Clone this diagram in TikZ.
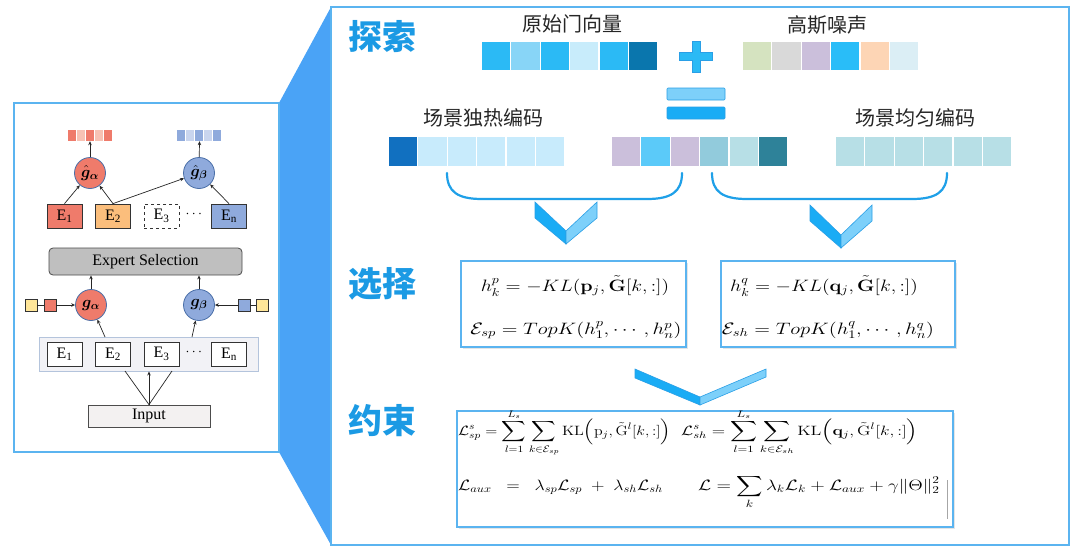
\RequirePackage{fix-cm}
\documentclass[tikz,border=0pt]{standalone}
\usepackage{amsmath}
\usepackage{bm}
\usepackage{graphicx}
\usepackage[no-math]{fontspec}
\setmainfont{Liberation Serif}
\newfontfamily\cjk{Noto Sans CJK SC}
\usetikzlibrary{arrows.meta,shadows,calc}
\pgfdeclarelayer{bg}
\pgfsetlayers{bg,main}
\definecolor{trapc}{HTML}{4AA3F6}
\definecolor{panelc}{HTML}{5BB4F0}
\definecolor{headc}{HTML}{1B9AE4}
\definecolor{bracec}{HTML}{1FA0E8}
\definecolor{lred}{HTML}{EF7B6B}
\definecolor{lredb}{HTML}{F7C2B4}
\definecolor{lorange}{HTML}{FBBE7C}
\definecolor{lblue}{HTML}{8FAADC}
\definecolor{lblueb}{HTML}{C9D5EE}
\definecolor{lyellow}{HTML}{FFE699}
\definecolor{gborder}{HTML}{4A6FA8}
\definecolor{esfill}{HTML}{BFBFBF}
\definecolor{contfill}{HTML}{F2F2F6}
\definecolor{contdraw}{HTML}{B4C4DC}
\definecolor{inpfill}{HTML}{F3F1F1}
\definecolor{ga}{HTML}{2BBAF5}
\definecolor{gb}{HTML}{88D5F7}
\definecolor{gc}{HTML}{C8ECFB}
\definecolor{gd}{HTML}{0A76AD}
\definecolor{na}{HTML}{D5E3C0}
\definecolor{nb}{HTML}{D9D9D9}
\definecolor{nc}{HTML}{CBBFDB}
\definecolor{nd}{HTML}{29BDF8}
\definecolor{ne}{HTML}{FDD5B5}
\definecolor{nf}{HTML}{DBEEF5}
\definecolor{oa}{HTML}{1170C0}
\definecolor{ob}{HTML}{C8EBFC}
\definecolor{ma}{HTML}{5BCAF9}
\definecolor{mb}{HTML}{92CBDC}
\definecolor{mc}{HTML}{B7DFE6}
\definecolor{md}{HTML}{2E8299}
\definecolor{chevl}{HTML}{1AACF5}
\definecolor{chevr}{HTML}{7DD0FA}
\definecolor{chevd}{HTML}{2A9FE6}
\newcommand\mycells[5]{%
  \foreach \cc [count=\i from 0] in {#5} {\fill[\cc] ({#1+\i*#3},#2) rectangle ++({#3-1.3},#4);}}
\newcommand\sx[2]{\scalebox{#1}[1]{#2}}
\begin{document}
\begin{tikzpicture}[x=1pt,y=-1pt,
  cjklbl/.style={font=\fontsize{20}{22}\selectfont\cjk, text=black!85, inner sep=0},
  headlbl/.style={font=\fontsize{34}{36}\selectfont\cjk\bfseries, text=headc, inner sep=0},
  fbox/.style={draw=panelc, line width=1.3, fill=white, inner sep=0,
     drop shadow={shadow xshift=1.5pt, shadow yshift=-1.5pt, opacity=0.2}},
  mline/.style={font=\fontsize{16.5}{19}\selectfont, inner sep=0, anchor=base},
  bline/.style={font=\fontsize{13.5}{16}\selectfont, inner sep=0, anchor=base west},
  bline2/.style={font=\fontsize{15}{17}\selectfont, inner sep=0, anchor=base west},
  ebox/.style={draw=black!80, line width=.8, minimum width=35, minimum height=24, inner sep=0, font=\fontsize{16}{16}\selectfont},
  gcirc/.style={circle, draw=gborder, line width=.8, minimum size=31, inner sep=0, font=\fontsize{16}{16}\selectfont},
  sq/.style={draw=black!80, line width=.7, minimum size=12, inner sep=0},
  arr/.style={-{Stealth[length=4pt,width=3.5pt]}, line width=.7, black!85},
  ddash/.style={dash dot, line width=.6, black!75, -{Stealth[length=3.5pt,width=3pt]}},
  chev/.style={draw=chevd, line width=.6},
  brace/.style={draw=bracec, line width=2.2, line cap=round}]
\useasboundingbox (0,0) rectangle (1080,552);

% ---------- trapezoid and panels ----------
\fill[trapc] (279,103) -- (331,7) -- (331,545) -- (279,452) -- cycle;
\filldraw[fill=white, draw=panelc, line width=1.5] (331,7) rectangle (1069,545);
\filldraw[fill=white, draw=panelc, line width=1.5] (14,103) rectangle (279,452);

% ---------- left panel ----------
\node[minimum width=44, minimum height=11, inner sep=0] (outA) at (90,135.5) {};
\node[minimum width=45, minimum height=11, inner sep=0] (outB) at (199.5,135.5) {};
\mycells{68}{130}{9}{11}{lred,lredb,lred,lredb,lred}
\mycells{177}{130}{9}{11}{lblue,lblueb,lblue,lblueb,lblue}
\node[gcirc, fill=lred] (hgA) at (90,173) {$\hat{\bm g}_{\bm\alpha}$};
\node[gcirc, fill=lblue] (hgB) at (199,173) {$\hat{\bm g}_{\bm\beta}$};
\node[ebox, fill=lred] (uE1) at (64.5,216) {E\textsubscript{1}};
\node[ebox, fill=lorange] (uE2) at (113,216) {E\textsubscript{2}};
\node[ebox, dashed] (uE3) at (161.5,216) {E\textsubscript{3}};
\node[font=\fontsize{14}{14}\selectfont, inner sep=0] (ud) at (195,214) {$\cdots$};
\node[ebox, fill=lblue] (uEn) at (229,216) {E\textsubscript{n}};
\node[draw=black!70, line width=.8, fill=esfill, rounded corners=4, minimum width=193, minimum height=27, inner sep=0, font=\fontsize{16}{16}\selectfont] (es) at (145.5,261.5) {Expert Selection};
\node[gcirc, fill=lred] (gA) at (91,305) {$\bm g_{\bm\alpha}$};
\node[gcirc, fill=lblue] (gB) at (199,305) {$\bm g_{\bm\beta}$};
\node[sq, fill=lyellow] (sqA1) at (31,305) {};
\node[sq, fill=lred] (sqA2) at (50,305) {};
\node[sq, fill=lblue] (sqB1) at (244,305) {};
\node[sq, fill=lyellow] (sqB2) at (262,305) {};
\node[draw=contdraw, line width=.9, fill=contfill, minimum width=219, minimum height=34, inner sep=0] (cont) at (148.5,354) {};
\node[ebox, fill=white] (lE1) at (64.5,354) {E\textsubscript{1}};
\node[ebox, fill=white] (lE2) at (113,354) {E\textsubscript{2}};
\node[ebox, fill=white] (lE3) at (161.5,354) {E\textsubscript{3}};
\node[font=\fontsize{14}{14}\selectfont, inner sep=0] (ld) at (195,352) {$\cdots$};
\node[ebox, fill=white] (lEn) at (229,354) {E\textsubscript{n}};
\node[draw=black!70, line width=.8, fill=inpfill, minimum width=122, minimum height=22, inner sep=0, font=\fontsize{16}{16}\selectfont] (inp) at (149,416) {Input};

\begin{pgfonlayer}{bg}
\draw[ddash] (lE1.north) -- (uE1.south);
\draw[ddash] (lE2.north) -- (uE2.south);
\draw[ddash] (lE3.north) -- (uE3.south);
\draw[ddash] (lEn.north) -- (uEn.south);
\end{pgfonlayer}

\coordinate (c1) at (125,371);
\coordinate (c3) at (172,371);
\draw[line width=.7, black!85] (inp.north) -- (c1);
\draw[line width=.7, black!85] (inp.north) -- (c3);
\draw[arr] (inp.north) -- (inp.north |- cont.south);
\coordinate (ca) at (105,337);
\coordinate (cb) at (192,337);
\draw[arr] (ca) -- (gA);
\draw[arr] (cb) -- (gB);
\draw[line width=.7, black!85] (sqA1) -- (sqA2);
\draw[arr] (sqA2) -- (gA);
\draw[line width=.7, black!85] (sqB2) -- (sqB1);
\draw[arr] (sqB1) -- (gB);
\draw[arr] (gA.north) -- (gA.north |- es.south);
\draw[arr] (gB.north) -- (gB.north |- es.south);
\draw[arr] (uE1.north) -- (hgA);
\draw[arr] (uE2.north) -- (hgA);
\draw[arr] (uE2.north) -- (hgB);
\draw[arr] (uEn.north) -- (hgB);
\draw[arr] (hgA) -- (outA.south);
\draw[arr] (hgB) -- (outB.south);

% ---------- right panel: explore ----------
\node[headlbl] (h1) at (382,37) {探索};
\node[headlbl] (h2) at (382,284) {选择};
\node[headlbl] (h3) at (382,421) {约束};

\node[cjklbl] (t1) at (572,24) {原始门向量};
\node[cjklbl] (t2) at (827,25) {高斯噪声};
\node[cjklbl] (t3) at (483,118) {场景独热编码};
\node[cjklbl] (t4) at (915,118) {场景均匀编码};

\mycells{482}{42}{29.4}{28}{ga,gb,ga,gc,ga,gd}
\mycells{743}{42}{29.4}{28}{na,nb,nc,nd,ne,nf}
\mycells{389}{137}{29.4}{29}{oa,ob,ob,ob,ob,ob}
\mycells{612}{137}{29.4}{29}{nc,ma,nc,mb,mc,md}
\mycells{836}{137}{29.4}{29}{mc,mc,mc,mc,mc,mc}

% plus
\filldraw[fill=ga, draw=chevd, line width=.6] (679,52) -- (692,52) -- (692,41) -- (700,41) -- (700,52) -- (712,52) -- (712,60) -- (700,60) -- (700,72) -- (692,72) -- (692,60) -- (679,60) -- cycle;
% equals
\filldraw[fill=chevr, draw=chevd, line width=.6, rounded corners=1] (667,88) rectangle (725,100);
\filldraw[fill=chevl, draw=chevd, line width=.6, rounded corners=1] (667,107) rectangle (725,119);

% braces
\draw[brace] (447,173) .. controls (447,192) and (458,199) .. (482,199) -- (647,199) .. controls (671,199) and (682,192) .. (682,173);
\draw[brace] (712,173) .. controls (712,192) and (723,199) .. (747,199) -- (912,199) .. controls (936,199) and (947,192) .. (947,173);

% chevrons
\filldraw[chev, fill=chevl] (535,202) -- (566,231) -- (566,244) -- (535,218) -- cycle;
\filldraw[chev, fill=chevr] (566,231) -- (597,202) -- (597,218) -- (566,244) -- cycle;
\filldraw[chev, fill=chevl] (810,205) -- (841,235) -- (841,248) -- (810,221) -- cycle;
\filldraw[chev, fill=chevr] (841,235) -- (872,205) -- (872,221) -- (841,248) -- cycle;
\filldraw[chev, fill=chevl] (635,369) -- (700,397) -- (700,405) -- (635,378) -- cycle;
\filldraw[chev, fill=chevr] (700,397) -- (766,369) -- (766,377) -- (700,405) -- cycle;

% ---------- selection ----------
\node[fbox, minimum width=225, minimum height=86] (s1) at (573.5,304) {};
\node[fbox, minimum width=234, minimum height=86] (s2) at (838,304) {};
\node[mline] (s1a) at (575,291) {\sx{1.2}{$h^{p}_{k}=-KL(\mathbf{p}_j,\tilde{\mathbf{G}}[k,:])$}};
\node[mline] (s1b) at (576,334) {\sx{1.25}{$\mathcal{E}_{sp}=TopK(h^{p}_{1},\cdots,h^{p}_{n})$}};
\node[mline] (s2a) at (824,291) {\sx{1.2}{$h^{q}_{k}=-KL(\mathbf{q}_j,\tilde{\mathbf{G}}[k,:])$}};
\node[mline] (s2b) at (828,334) {\sx{1.25}{$\mathcal{E}_{sh}=TopK(h^{q}_{1},\cdots,h^{q}_{n})$}};

% ---------- constraint ----------
\node[fbox, minimum width=496, minimum height=116] (fb) at (705,469) {};
\node[bline] (f1) at (458,435) {\sx{1.18}{$\displaystyle \mathcal{L}^{s}_{sp}=\sum_{l=1}^{L_s}\sum_{k\in\mathcal{E}_{sp}}\mathrm{KL}\Big(\mathrm{p}_j,\tilde{\mathrm{G}}^{l}[k,:]\Big)$}};
\node[bline] (f2) at (681,435) {\sx{1.3}{$\displaystyle \mathcal{L}^{s}_{sh}=\sum_{l=1}^{L_s}\sum_{k\in\mathcal{E}_{sh}}\mathrm{KL}\Big(\mathbf{q}_j,\tilde{\mathrm{G}}^{l}[k,:]\Big)$}};
\node[bline2] (f3) at (458,490) {\sx{1.18}{$\mathcal{L}_{aux}\;\;=\;\;\lambda_{sp}\mathcal{L}_{sp}\;+\;\lambda_{sh}\mathcal{L}_{sh}$}};
\node[bline2] (f4) at (698,490) {\sx{1.27}{$\displaystyle \mathcal{L}=\sum_{k}\lambda_k\mathcal{L}_k+\mathcal{L}_{aux}+\gamma\|\Theta\|_2^2$}};
\draw[black!35, line width=.5] (947,480) -- (947,519);
\end{tikzpicture}
\end{document}
